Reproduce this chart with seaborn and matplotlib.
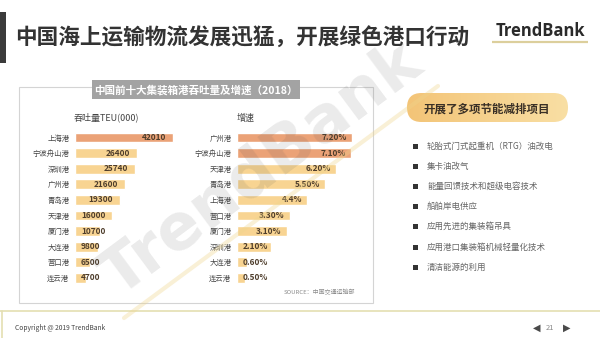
import numpy as np
import pandas as pd
import matplotlib
matplotlib.use("Agg")
import matplotlib.pyplot as plt
import seaborn as sns
from matplotlib.patches import Rectangle, FancyBboxPatch

# ---------------- data ----------------
throughput_ports = ["上海港", "宁波舟山港", "深圳港", "广州港", "青岛港",
                    "天津港", "厦门港", "大连港", "营口港", "连云港"]
throughput_values = [42010, 26400, 25740, 21600, 19300, 16000, 10700, 9800, 6500, 4700]
throughput_labels = ["42010", "26400", "25740", "21600", "19300",
                     "16000", "10700", "9800", "6500", "4700"]

growth_ports = ["广州港", "宁波舟山港", "天津港", "青岛港", "上海港",
                "营口港", "厦门港", "深圳港", "大连港", "连云港"]
growth_values = [7.20, 7.10, 6.20, 5.50, 4.4, 3.30, 3.10, 2.10, 0.60, 0.50]
growth_labels = ["7.20%", "7.10%", "6.20%", "5.50%", "4.4%",
                 "3.30%", "3.10%", "2.10%", "0.60%", "0.50%"]

n_highlight_throughput = 1
n_highlight_growth = 2

slide_title = "中国海上运输物流发展迅猛，开展绿色港口行动"
chart_title = "中国前十大集装箱港吞吐量及增速（2018）"
left_subtitle = "吞吐量TEU(000)"
right_subtitle = "增速"
source_text = "SOURCE：中国交通运输部"
panel_heading = "开展了多项节能减排项目"
bullet_items = ["轮胎式门式起重机（RTG）油改电", "集卡油改气", "能量回馈技术和超级电容技术",
                "船舶岸电供应", "应用先进的集装箱吊具", "应用港口集装箱机械轻量化技术",
                "清洁能源的利用"]
footer_text = "Copyright @ 2019 TrendBank"
page_number = "21"
brand = "TrendBank"

# ---------------- style ----------------
sns.set_theme(style="white")
plt.rcParams["font.family"] = ["Noto Sans CJK SC", "DejaVu Sans"]

HL = "#EBA277"
NORMAL = "#F8D492"
VAL_COLOR = "#4e3d2b"

W, H = 600, 338
fig = plt.figure(figsize=(6, 3.38), dpi=100)
fig.patch.set_facecolor("white")


def fr(x0, y0, x1, y1):
    return [x0 / W, 1 - y1 / H, (x1 - x0) / W, (y1 - y0) / H]


bg = fig.add_axes([0, 0, 1, 1], zorder=0)
bg.set_xlim(0, W)
bg.set_ylim(H, 0)
bg.axis("off")

# slide title
bg.add_patch(Rectangle((0, 12), 6, 51, color="#3b3b3b", lw=0))
bg.text(15, 38, slide_title, fontsize=15.6, fontweight="bold", color="#333333",
        ha="left", va="center")

# brand logo
bg.text(540, 31, brand, family=["Open Sans", "DejaVu Sans"], fontweight="bold",
        fontsize=12, color="#2a2a2a", ha="center", va="center")
bg.plot([492, 588], [42, 42], color="#dccf9c", lw=1.6, solid_capstyle="butt")

# chart panel
bg.add_patch(Rectangle((19, 87), 354, 216, facecolor="white", edgecolor="#d4d4d4", lw=0.8))
bg.add_patch(Rectangle((92, 80), 208, 19, facecolor="#a3a3a3", lw=0))
bg.text(196, 90, chart_title, fontsize=7.6, fontweight="bold", color="white",
        ha="center", va="center")
bg.text(74, 117, left_subtitle, fontsize=6.5, color="#444444", ha="left", va="center")
bg.text(237, 118, right_subtitle, fontsize=6.5, color="#444444", ha="left", va="center")
bg.text(355, 292, source_text, fontsize=4.3, color="#8c8c8c", ha="right", va="center")

# right panel heading pill with gradient
pill = FancyBboxPatch((407, 93), 161, 29, boxstyle="round,pad=0,rounding_size=14.5",
                      facecolor="none", edgecolor="none", lw=0)
bg.add_patch(pill)
grad = np.linspace(0, 1, 256).reshape(1, -1)
cmap = matplotlib.colors.LinearSegmentedColormap.from_list("pill", ["#F3C477", "#F9DFA4"])
im = bg.imshow(grad, extent=(407, 568, 122, 93), cmap=cmap, aspect="auto", zorder=1)
im.set_clip_path(pill)
bg.set_xlim(0, W)
bg.set_ylim(H, 0)
bg.text(487, 109, panel_heading, fontsize=8.3, fontweight="bold", color="#3a3026",
        ha="center", va="center", zorder=2)

# bullets
for i, item in enumerate(bullet_items):
    y = 146 + i * 20.2
    bg.add_patch(Rectangle((413, y - 2.5), 5, 5, color="#333333", lw=0))
    bg.text(427, y, item, fontsize=6.1, color="#666666", ha="left", va="center")

# footer
bg.plot([0, W], [311, 311], color="#e4dfb2", lw=1.2)
bg.plot([1.5, 1.5], [311, H], color="#e4dfb2", lw=1.2)
bg.text(15, 328, footer_text, fontsize=4.8, color="#444444", ha="left", va="center")
bg.text(537, 328, "◀", fontsize=7, color="#4a4a4a", ha="center", va="center",
        family=["DejaVu Sans"])
bg.text(550, 328, page_number, fontsize=5.5, color="#8a8a8a", ha="center", va="center")
bg.text(567, 328, "▶", fontsize=7, color="#4a4a4a", ha="center", va="center",
        family=["DejaVu Sans"])

# ---------------- bar charts ----------------
ROW_TOP, ROW_STEP = 137.5, 15.6
y_top = ROW_TOP - ROW_STEP / 2
y_bot = ROW_TOP + ROW_STEP * 9.5


def bar_chart(rect, ports, values, n_hl, xmax):
    ax = fig.add_axes(rect, zorder=1)
    ax.patch.set_alpha(0)
    df = pd.DataFrame({"port": ports, "value": values})
    colors = [HL if i < n_hl else NORMAL for i in range(len(ports))]
    sns.barplot(data=df, x="value", y="port", hue="port", palette=colors, legend=False,
                width=0.64, saturation=1, orient="h", ax=ax)
    ax.set_xlim(0, xmax)
    ax.set_ylim(len(ports) - 0.5, -0.5)
    ax.set_xlabel("")
    ax.set_ylabel("")
    ax.set_xticks([])
    sns.despine(ax=ax, left=True, bottom=True, top=True, right=True)
    ax.tick_params(axis="y", length=0, pad=4, labelsize=5.3, labelcolor="#444444")
    return ax


axL = bar_chart(fr(75, y_top, 175, y_bot), throughput_ports, throughput_values,
                n_highlight_throughput, 42010 * 100 / 98)
axR = bar_chart(fr(237, y_top, 357, y_bot), growth_ports, growth_values,
                n_highlight_growth, 7.5)

fig.canvas.draw()
renderer = fig.canvas.get_renderer()


def add_labels(ax, values, labels, end_pad, start_pad):
    for i, (v, lab) in enumerate(zip(values, labels)):
        kw = dict(va="center", fontsize=6, fontweight="bold", color=VAL_COLOR,
                  textcoords="offset points")
        t = ax.annotate(lab, xy=(v, i), xytext=(-end_pad * 0.72, 0), ha="right", **kw)
        bb = t.get_window_extent(renderer)
        x_start = ax.transData.transform((0, i))[0]
        if bb.x0 < x_start + start_pad:
            t.remove()
            ax.annotate(lab, xy=(0, i), xytext=(start_pad * 0.72, 0), ha="left", **kw)


add_labels(axL, throughput_values, throughput_labels, 7, 6)
add_labels(axR, growth_values, growth_labels, 5, 6)

# ---------------- watermark ----------------
wm = fig.add_axes([0, 0, 1, 1], zorder=5)
wm.set_xlim(0, W)
wm.set_ylim(H, 0)
wm.axis("off")
wm.patch.set_alpha(0)
wm.plot([124, 438], [318, 86], color="#efd58c", lw=3, alpha=0.35, solid_capstyle="round")
wm.text(262, 170, brand, rotation=36.6, rotation_mode="anchor", fontsize=46,
        fontweight="bold", color="#555555", alpha=0.12, ha="center", va="center",
        family=["DejaVu Sans"])

fig.savefig("out.png", dpi=100, facecolor="white")
